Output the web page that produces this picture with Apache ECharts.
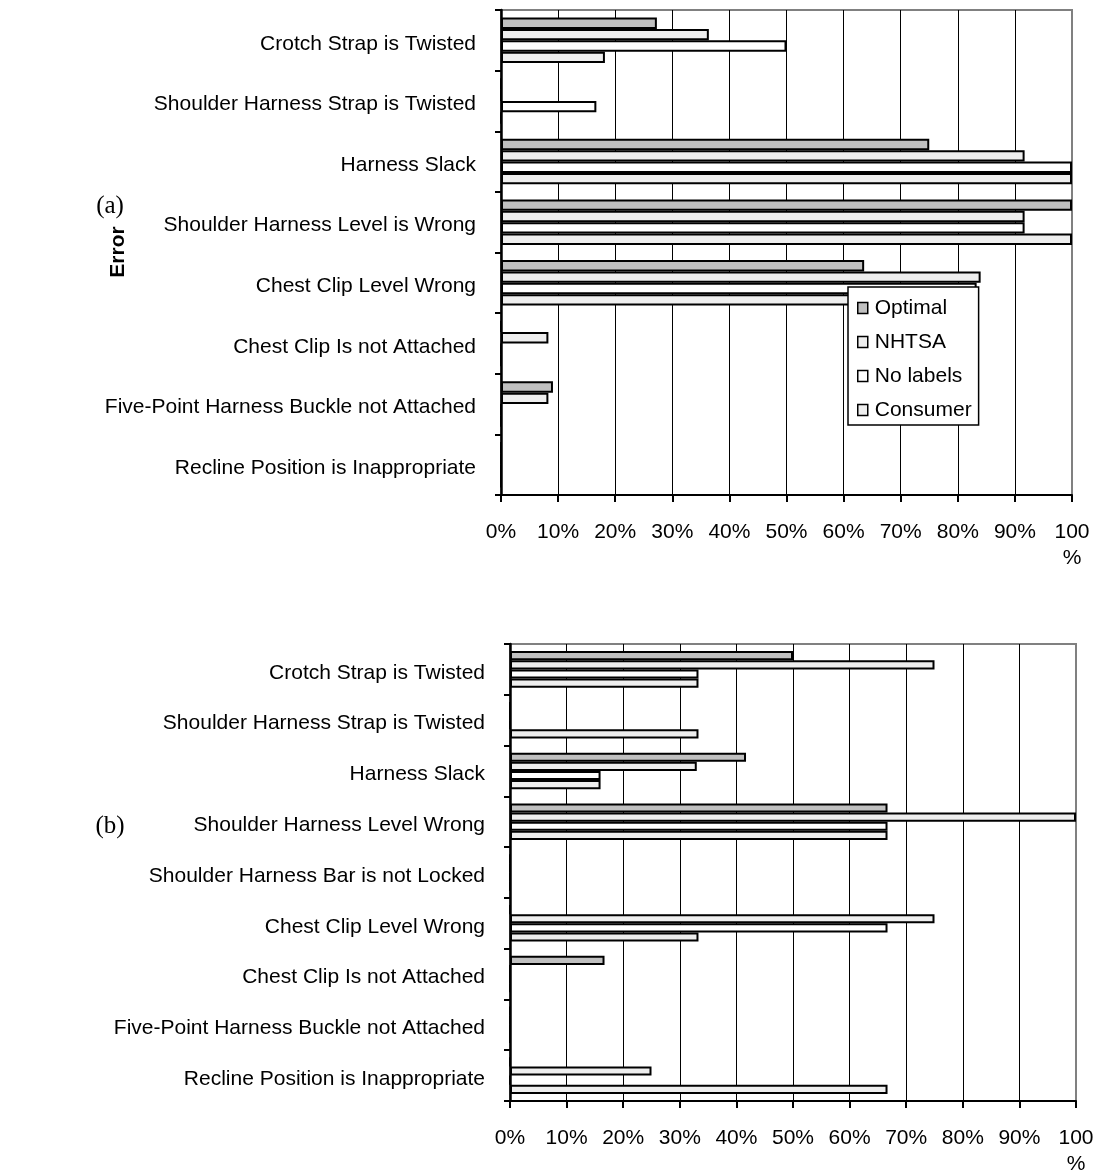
<!DOCTYPE html>
<html>
<head>
<meta charset="utf-8">
<script src="https://cdn.jsdelivr.net/npm/echarts@6/dist/echarts.min.js"></script>
<style>
  html, body { margin: 0; padding: 0; background: #fff; }
  #chart { width: 1093px; height: 1173px; }
</style>
</head>
<body>
<div id="chart"></div>
<script>
// Installation errors observed, by labelling condition (percent of trials)
const seriesNames = ['Optimal', 'NHTSA', 'No labels', 'Consumer'];

// Panel (a)
const categoriesA = [
  'Crotch Strap is Twisted',
  'Shoulder Harness Strap is Twisted',
  'Harness Slack',
  'Shoulder Harness Level is Wrong',
  'Chest Clip Level Wrong',
  'Chest Clip Is not Attached',
  'Five-Point Harness Buckle not Attached',
  'Recline Position is Inappropriate'
];
const optimalA  = [27.3, 0, 75, 100, 63.6, 0, 9.1, 0];
const nhtsaA    = [36.4, 0, 91.7, 91.7, 84, 8.3, 8.3, 0];
const noLabelsA = [50, 16.7, 100, 91.7, 83.3, 0, 0, 0];
const consumerA = [18.2, 0, 100, 100, 67, 0, 0, 0];

// Panel (b)
const categoriesB = [
  'Crotch Strap is Twisted',
  'Shoulder Harness Strap is Twisted',
  'Harness Slack',
  'Shoulder Harness Level Wrong',
  'Shoulder Harness Bar is not Locked',
  'Chest Clip Level Wrong',
  'Chest Clip Is not Attached',
  'Five-Point Harness Buckle not Attached',
  'Recline Position is Inappropriate'
];
const optimalB  = [50, 0, 41.7, 66.7, 0, 0, 16.7, 0, 0];
const nhtsaB    = [75, 0, 33, 100, 0, 75, 0, 0, 25];
const noLabelsB = [33.3, 0, 16, 66.7, 0, 66.7, 0, 0, 0];
const consumerB = [33.3, 33.3, 16, 66.7, 0, 33.3, 0, 0, 66.7];

// Percentage tick labels (the last one wraps onto two lines)
const xTickLabels = ['0%', '10%', '20%', '30%', '40%', '50%', '60%', '70%', '80%', '90%', '100\n%'];

const fills = ['#c0c0c0', '#eeeeee', '#ffffff', '#eeeeee'];
const FONT = 'Liberation Sans, Arial, sans-serif';
const SERIF = '25px "Liberation Serif", "Times New Roman", serif';

function valueAxis(gridIndex) {
  return {
    type: 'value', gridIndex: gridIndex, min: 0, max: 100, interval: 10,
    axisLine: { show: true, lineStyle: { color: '#000', width: 2 } },
    axisTick: { show: true, length: 7, lineStyle: { color: '#000', width: 2 } },
    axisLabel: {
      color: '#000', fontFamily: FONT, fontSize: 21, lineHeight: 26, margin: 24,
      formatter: function (v) { return xTickLabels[Math.round(v / 10)]; }
    },
    splitLine: { show: true, showMinLine: false, showMaxLine: false, lineStyle: { color: '#000', width: 1 } }
  };
}

function categoryAxis(gridIndex, cats) {
  return {
    type: 'category', gridIndex: gridIndex, data: cats, inverse: true,
    axisLine: { show: true, lineStyle: { color: '#000', width: 2.5 } },
    axisTick: { show: true, length: 6, lineStyle: { color: '#000', width: 2 } },
    // text sits a few pixels below the band centre
    axisLabel: { color: '#000', fontFamily: FONT, fontSize: 21, margin: 25, verticalAlign: 'top', lineHeight: 7 },
    splitLine: { show: false }
  };
}

function barSeries(gridIndex, lists, gap) {
  return lists.map(function (vals, k) {
    return {
      type: 'bar', name: seriesNames[k], data: vals,
      xAxisIndex: gridIndex, yAxisIndex: gridIndex,
      barGap: '0%', barCategoryGap: gap,
      itemStyle: { color: fills[k], borderColor: '#000', borderWidth: 2 },
      emphasis: { disabled: true },
      animation: false
    };
  });
}

const chart = echarts.init(document.getElementById('chart'), null, { renderer: 'canvas' });
chart.setOption({
  backgroundColor: '#fff',
  animation: false,
  grid: [
    { left: 501, top: 10, width: 571, height: 485, outerBoundsMode: 'none', containLabel: false,
      show: true, backgroundColor: 'transparent', borderColor: '#808080', borderWidth: 2 },
    { left: 510, top: 644, width: 566, height: 457, outerBoundsMode: 'none', containLabel: false,
      show: true, backgroundColor: 'transparent', borderColor: '#808080', borderWidth: 2 }
  ],
  xAxis: [valueAxis(0), valueAxis(1)],
  yAxis: [categoryAxis(0, categoriesA), categoryAxis(1, categoriesB)],
  legend: {
    data: seriesNames,
    orient: 'vertical', left: 848, top: 287,
    padding: [9, 7, 3, 9],
    itemWidth: 10, itemHeight: 11, itemGap: 10,
    backgroundColor: '#fff', borderColor: '#000', borderWidth: 1.5,
    icon: 'rect',
    itemStyle: { borderColor: '#000', borderWidth: 1.5 },
    textStyle: { color: '#000', fontFamily: FONT, fontSize: 21, lineHeight: 24, padding: [0, 0, 0, 2] },
    selectedMode: false,
    z: 10
  },
  graphic: [
    {
      type: 'text', x: 118, y: 252, rotation: Math.PI / 2,
      style: { text: 'Error', fill: '#000', font: 'bold 21px ' + FONT, align: 'center', verticalAlign: 'middle' }
    },
    { type: 'text', x: 110, y: 206, style: { text: '(a)', fill: '#000', font: SERIF, align: 'center', verticalAlign: 'middle' } },
    { type: 'text', x: 110, y: 826, style: { text: '(b)', fill: '#000', font: SERIF, align: 'center', verticalAlign: 'middle' } }
  ],
  series: barSeries(0, [optimalA, nhtsaA, noLabelsA, consumerA], '25%')
    .concat(barSeries(1, [optimalB, nhtsaB, noLabelsB, consumerB], '28%'))
});
</script>
</body>
</html>
